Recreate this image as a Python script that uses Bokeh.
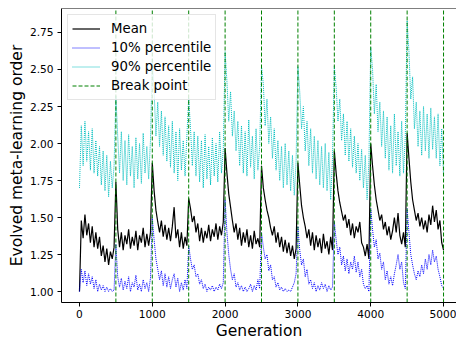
from bokeh.plotting import figure
from bokeh.models import Range1d, FixedTicker, PrintfTickFormatter, Span
from bokeh.embed import file_html
from bokeh.resources import INLINE

generations = list(range(0, 5001, 25))

mean_order = [
    1.00, 1.48, 1.36, 1.52, 1.38, 1.46, 1.33, 1.44, 1.30, 1.40, 1.29, 1.37, 1.24, 1.31, 1.20, 1.29, 1.18, 1.27, 1.22, 1.30,
    1.74, 1.42, 1.30, 1.40, 1.28, 1.38, 1.32, 1.42, 1.29, 1.37, 1.31, 1.41, 1.28, 1.38, 1.33, 1.43, 1.30, 1.39, 1.31, 1.40,
    1.87, 1.68, 1.55, 1.47, 1.40, 1.48, 1.37, 1.45, 1.35, 1.43, 1.34, 1.44, 1.57, 1.36, 1.42, 1.30, 1.40, 1.29, 1.37, 1.31,
    1.63, 1.56, 1.47, 1.51, 1.40, 1.46, 1.34, 1.43, 1.33, 1.41, 1.36, 1.45, 1.34, 1.42, 1.37, 1.46, 1.35, 1.44, 1.38, 1.47,
    1.97, 1.80, 1.66, 1.57, 1.48, 1.40, 1.46, 1.35, 1.43, 1.31, 1.40, 1.33, 1.42, 1.30, 1.38, 1.29, 1.41, 1.32, 1.36, 1.30,
    1.85, 1.70, 1.62, 1.55, 1.50, 1.43, 1.38, 1.44, 1.33, 1.40, 1.30, 1.37, 1.27, 1.35, 1.26, 1.33, 1.24, 1.31, 1.22, 1.29,
    1.87, 1.72, 1.58, 1.50, 1.44, 1.36, 1.42, 1.31, 1.40, 1.28, 1.38, 1.30, 1.36, 1.26, 1.39, 1.29, 1.34, 1.25, 1.37, 1.28,
    1.95, 1.80, 1.68, 1.60, 1.54, 1.48, 1.52, 1.43, 1.49, 1.38, 1.46, 1.36, 1.44, 1.40, 1.47, 1.33, 1.30, 1.24, 1.32, 1.22,
    2.00, 1.85, 1.72, 1.62, 1.55, 1.48, 1.52, 1.42, 1.47, 1.38, 1.44, 1.35, 1.41, 1.50, 1.40, 1.53, 1.38, 1.32, 1.40, 1.30,
    2.07, 1.90, 1.74, 1.62, 1.55, 1.48, 1.53, 1.44, 1.50, 1.42, 1.48, 1.40, 1.52, 1.45, 1.58, 1.47, 1.55, 1.42, 1.48, 1.33,
    1.28,
]

p10_order = [
    1.00, 1.15, 1.06, 1.14, 1.04, 1.12, 1.05, 1.10, 1.02, 1.08, 1.00, 1.05, 1.01, 1.04, 1.00, 1.03, 1.00, 1.02, 1.00, 1.01,
    1.32, 1.10, 1.03, 1.09, 1.01, 1.07, 1.02, 1.10, 1.00, 1.06, 1.03, 1.11, 1.01, 1.05, 1.00, 1.08, 1.02, 1.06, 1.00, 1.09,
    1.50, 1.35, 1.22, 1.15, 1.08, 1.14, 1.04, 1.12, 1.03, 1.10, 1.02, 1.08, 1.12, 1.03, 1.09, 1.00, 1.06, 1.01, 1.08, 1.02,
    1.31, 1.22, 1.15, 1.18, 1.10, 1.12, 1.05, 1.08, 1.02, 1.05, 1.00, 1.03, 1.01, 1.04, 1.00, 1.03, 1.01, 1.05, 1.02, 1.06,
    1.62, 1.40, 1.25, 1.15, 1.08, 1.12, 1.03, 1.06, 1.01, 1.04, 1.00, 1.03, 1.00, 1.02, 1.05, 1.00, 1.04, 1.01, 1.08, 1.02,
    1.40, 1.30, 1.22, 1.25, 1.14, 1.18, 1.08, 1.10, 1.03, 1.06, 1.01, 1.03, 1.00, 1.02, 1.00, 1.01, 1.00, 1.03, 1.06, 1.12,
    1.44, 1.28, 1.18, 1.22, 1.10, 1.15, 1.05, 1.08, 1.02, 1.06, 1.00, 1.04, 1.01, 1.06, 1.02, 1.05, 1.00, 1.04, 1.01, 1.03,
    1.47, 1.35, 1.25, 1.30, 1.18, 1.24, 1.14, 1.22, 1.12, 1.20, 1.15, 1.24, 1.13, 1.20, 1.10, 1.15, 1.05, 1.02, 1.04, 1.00,
    1.56, 1.42, 1.30, 1.35, 1.22, 1.26, 1.15, 1.20, 1.08, 1.14, 1.05, 1.10, 1.04, 1.12, 1.18, 1.25, 1.15, 1.20, 1.06, 1.02,
    1.56, 1.40, 1.25, 1.18, 1.12, 1.08, 1.14, 1.10, 1.18, 1.12, 1.22, 1.15, 1.25, 1.18, 1.28, 1.20, 1.24, 1.15, 1.10, 1.04,
    1.02,
]

p90_order = [
    1.70, 2.12, 1.85, 2.15, 1.88, 2.08, 1.82, 2.10, 1.80, 2.02, 1.78, 1.98, 1.72, 1.95, 1.68, 1.92, 1.64, 1.88, 1.70, 1.85,
    2.32, 2.05, 1.80, 2.08, 1.75, 2.02, 1.72, 2.06, 1.78, 1.98, 1.70, 2.04, 1.76, 2.00, 1.73, 2.07, 1.80, 1.98, 1.76, 2.02,
    2.57, 2.35, 2.05, 2.28, 1.98, 2.22, 1.92, 2.18, 1.88, 2.12, 1.84, 2.15, 1.80, 2.08, 1.75, 2.10, 1.82, 2.02, 1.78, 2.05,
    2.31, 2.10, 1.85, 2.08, 1.78, 2.05, 1.74, 2.02, 1.70, 2.06, 1.76, 1.98, 1.72, 2.04, 1.78, 2.00, 1.74, 2.08, 1.80, 1.96,
    2.62, 2.42, 2.15, 2.35, 2.05, 2.22, 1.95, 2.15, 1.85, 2.12, 1.80, 2.08, 1.78, 2.16, 1.84, 2.05, 1.76, 2.10, 1.82, 1.98,
    2.52, 2.40, 2.12, 2.30, 2.00, 2.18, 1.90, 2.10, 1.82, 2.02, 1.75, 1.98, 1.70, 2.00, 1.72, 1.95, 1.68, 1.92, 1.65, 1.88,
    2.52, 2.35, 2.10, 2.25, 1.95, 2.15, 1.85, 2.10, 1.80, 2.05, 1.76, 2.02, 1.72, 1.98, 1.70, 2.00, 1.68, 1.94, 1.62, 1.90,
    2.52, 2.38, 2.15, 2.30, 2.02, 2.20, 1.92, 2.15, 1.88, 2.10, 1.84, 2.05, 1.80, 2.00, 1.75, 1.96, 1.70, 1.92, 1.62, 1.88,
    2.65, 2.50, 2.20, 2.40, 2.08, 2.28, 1.98, 2.22, 1.90, 2.18, 1.82, 2.12, 1.80, 2.20, 1.85, 2.08, 1.78, 2.15, 1.80, 2.05,
    2.83, 2.62, 2.30, 2.45, 2.10, 2.28, 1.98, 2.22, 1.92, 2.25, 1.95, 2.20, 1.90, 2.24, 1.96, 2.18, 1.90, 2.20, 1.85, 2.10,
    1.78,
]

break_points = [500, 1000, 1500, 2000, 2500, 3000, 3500, 4000, 4500, 5000]
x_ticks = [0, 1000, 2000, 3000, 4000, 5000]
y_ticks = [1.00, 1.25, 1.50, 1.75, 2.00, 2.25, 2.50, 2.75]

X_START, X_END = -247, 5178
Y_START, Y_END = 0.926, 2.912

FONT = "DejaVu Sans"

p = figure(width=456, height=342, output_backend="svg", toolbar_location=None,
           x_range=Range1d(X_START, X_END), y_range=Range1d(Y_START, Y_END),
           min_border_left=61, min_border_right=0, min_border_top=8, min_border_bottom=36)
p.outline_line_color = None
p.xgrid.visible = False
p.ygrid.visible = False
p.background_fill_color = "white"
p.border_fill_color = "white"

p.line(generations, mean_order, line_color="black", line_width=1.2, legend_label="Mean")
p.line(generations, p10_order, line_color="blue", line_width=1, line_dash="1 1", legend_label="10% percentile")
p.line(generations, p90_order, line_color="#00bfbf", line_width=1, line_dash="1 1", legend_label="90% percentile")
p.segment(x0=break_points, x1=break_points, y0=[Y_START] * len(break_points), y1=[Y_END] * len(break_points),
          line_color="green", line_width=1, line_dash="4 2", legend_label="Break point")

p.add_layout(Span(location=Y_END, dimension="width", line_color="black", line_width=1))

for ax in (p.xaxis[0], p.yaxis[0]):
    ax.major_tick_out = 4
    ax.major_tick_in = 0
    ax.minor_tick_out = 0
    ax.minor_tick_in = 0
    ax.axis_line_color = "black"
    ax.major_tick_line_color = "black"
    ax.major_label_text_font = FONT
    ax.major_label_text_font_size = "10.6px"
    ax.major_label_text_color = "black"
    ax.axis_label_text_font = FONT
    ax.axis_label_text_font_size = "15.5px"
    ax.axis_label_text_font_style = "normal"
    ax.axis_label_text_color = "black"

p.xaxis.major_label_standoff = 3
p.yaxis.major_label_standoff = 4
p.xaxis.ticker = FixedTicker(ticks=x_ticks)
p.yaxis.ticker = FixedTicker(ticks=y_ticks)
p.yaxis.formatter = PrintfTickFormatter(format="%.2f")
p.xaxis.axis_label = "Generation"
p.yaxis.axis_label = "Evolved meta-learning order"
p.xaxis.axis_label_standoff = 1
p.yaxis.axis_label_standoff = 1

lg = p.legend[0]
lg.location = "top_left"
lg.margin = 6
lg.padding = 4
lg.spacing = 0
lg.label_height = 19
lg.glyph_height = 19
lg.glyph_width = 28
lg.label_standoff = 11
lg.label_text_font = FONT
lg.label_text_font_size = "13.3px"
lg.label_text_color = "black"
lg.border_line_color = "#cccccc"
lg.border_line_width = 1
lg.background_fill_color = "white"
lg.background_fill_alpha = 0.8

open("out.html", "w").write(file_html(p, INLINE))
